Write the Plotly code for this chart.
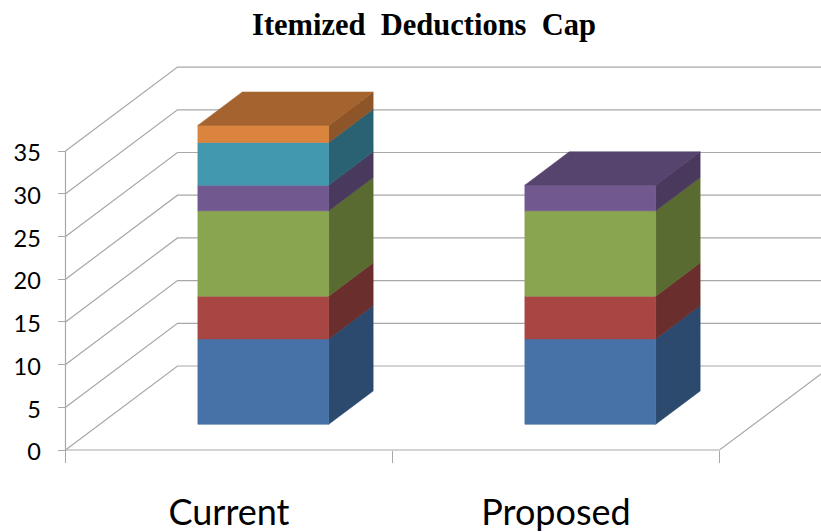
import plotly.graph_objects as go

# Chart content
categories = ["Current", "Proposed"]
series_blue = [10, 10]
series_red = [5, 5]
series_green = [10, 10]
series_purple = [3, 3]
series_teal = [5, 0]
series_orange = [2, 0]
y_ticks = [0, 5, 10, 15, 20, 25, 30, 35]
title_text = "Itemized\u00a0\u00a0Deductions\u00a0\u00a0Cap"

# (series values, front face, side face, top face)
stack = [
    (series_blue, "#4672A8", "#2C4A6E", "#36587F"),
    (series_red, "#A84644", "#6A2E2C", "#7F3634"),
    (series_green, "#8AA550", "#5A6B32", "#6A7F3D"),
    (series_purple, "#71588F", "#49395D", "#56436E"),
    (series_teal, "#4198AF", "#2A6273", "#327587"),
    (series_orange, "#DB843D", "#8E5628", "#A5642F"),
]

# Figure size and the placement of the plotting box
WIDTH, HEIGHT = 821, 532
PX_PER_CATEGORY = 327.0
PX_PER_UNIT = 8.54
ORIGIN_X, ORIGIN_Y = 65.5, 450.0

# Oblique projection: full depth moves a point right and up by these amounts
DEPTH_X = 112.0 / PX_PER_CATEGORY
DEPTH_Y = 84.0 / PX_PER_UNIT
BAR_WIDTH = 0.40
BAR_DEPTH_FRONT = 0.306
BAR_DEPTH_BACK = 0.703

GRID = "#A8A8A8"


def project(x, value, depth):
    return x + depth * DEPTH_X, value + depth * DEPTH_Y


def polygon(points, color):
    xy = [project(*p) for p in points]
    xs = [p[0] for p in xy] + [xy[0][0]]
    ys = [p[1] for p in xy] + [xy[0][1]]
    return go.Scatter(
        x=xs, y=ys, mode="lines", fill="toself", fillcolor=color,
        line=dict(width=0.6, color=color), hoverinfo="skip", showlegend=False,
    )


def line(points):
    xy = [project(*p) for p in points]
    return go.Scatter(
        x=[p[0] for p in xy], y=[p[1] for p in xy], mode="lines",
        line=dict(width=1.2, color=GRID), hoverinfo="skip", showlegend=False,
    )


fig = go.Figure()

# Walls and floor: each gridline runs along the side wall, then across the back
n_cat = len(categories)
for tick in y_ticks:
    fig.add_trace(line([(0, tick, 0), (0, tick, 1), (n_cat + 1, tick, 1)]))
fig.add_trace(line([(0, y_ticks[0], 0), (0, y_ticks[-1], 0)]))
fig.add_trace(line([(0, 0, 0), (n_cat, 0, 0), (n_cat, 0, 1)]))

# Stacked boxes, bottom segment first
for i, _ in enumerate(categories):
    x0 = i + 0.5 - BAR_WIDTH / 2
    x1 = i + 0.5 + BAR_WIDTH / 2
    d0, d1 = BAR_DEPTH_FRONT, BAR_DEPTH_BACK
    base = 0
    top_color = None
    for values, front, side, top in stack:
        v = values[i]
        if v == 0:
            continue
        fig.add_trace(polygon([(x1, base, d0), (x1, base, d1), (x1, base + v, d1), (x1, base + v, d0)], side))
        fig.add_trace(polygon([(x0, base, d0), (x1, base, d0), (x1, base + v, d0), (x0, base + v, d0)], front))
        base += v
        top_color = top
    fig.add_trace(polygon([(x0, base, d0), (x1, base, d0), (x1, base, d1), (x0, base, d1)], top_color))

fig.update_layout(
    width=WIDTH,
    height=HEIGHT,
    margin=dict(l=0, r=0, t=0, b=0, pad=0, autoexpand=False),
    paper_bgcolor="white",
    plot_bgcolor="white",
    showlegend=False,
    title=dict(
        text=title_text,
        x=424 / WIDTH,
        xanchor="center",
        y=1 - 24 / HEIGHT,
        yanchor="middle",
        font=dict(family="Liberation Serif", size=30.5, color="black", weight="bold"),
    ),
    xaxis=dict(
        range=[-ORIGIN_X / PX_PER_CATEGORY, (WIDTH - ORIGIN_X) / PX_PER_CATEGORY],
        anchor="free",
        position=(HEIGHT - ORIGIN_Y) / HEIGHT,
        automargin=False,
        tickmode="array",
        tickvals=[i + 0.5 for i in range(n_cat)],
        ticktext=categories,
        ticks="outside",
        ticklen=0,
        ticklabelstandoff=31,
        tickfont=dict(family="Lato", size=36, color="black"),
        minor=dict(
            tickmode="array",
            tickvals=list(range(n_cat + 1)),
            ticks="outside",
            ticklen=12,
            tickwidth=1.2,
            tickcolor=GRID,
        ),
        showgrid=False,
        zeroline=False,
        showline=False,
        fixedrange=True,
    ),
    yaxis=dict(
        range=[(ORIGIN_Y - HEIGHT) / PX_PER_UNIT, ORIGIN_Y / PX_PER_UNIT],
        anchor="free",
        position=ORIGIN_X / WIDTH,
        automargin=False,
        tickmode="array",
        tickvals=y_ticks,
        ticktext=[str(t) for t in y_ticks],
        ticks="outside",
        ticklen=8,
        tickwidth=1.2,
        tickcolor=GRID,
        ticklabelstandoff=12,
        ticklabelshift=2,
        tickfont=dict(family="Lato", size=23.5, color="black"),
        showgrid=False,
        zeroline=False,
        showline=False,
        fixedrange=True,
    ),
)

fig.write_html("out.html")
